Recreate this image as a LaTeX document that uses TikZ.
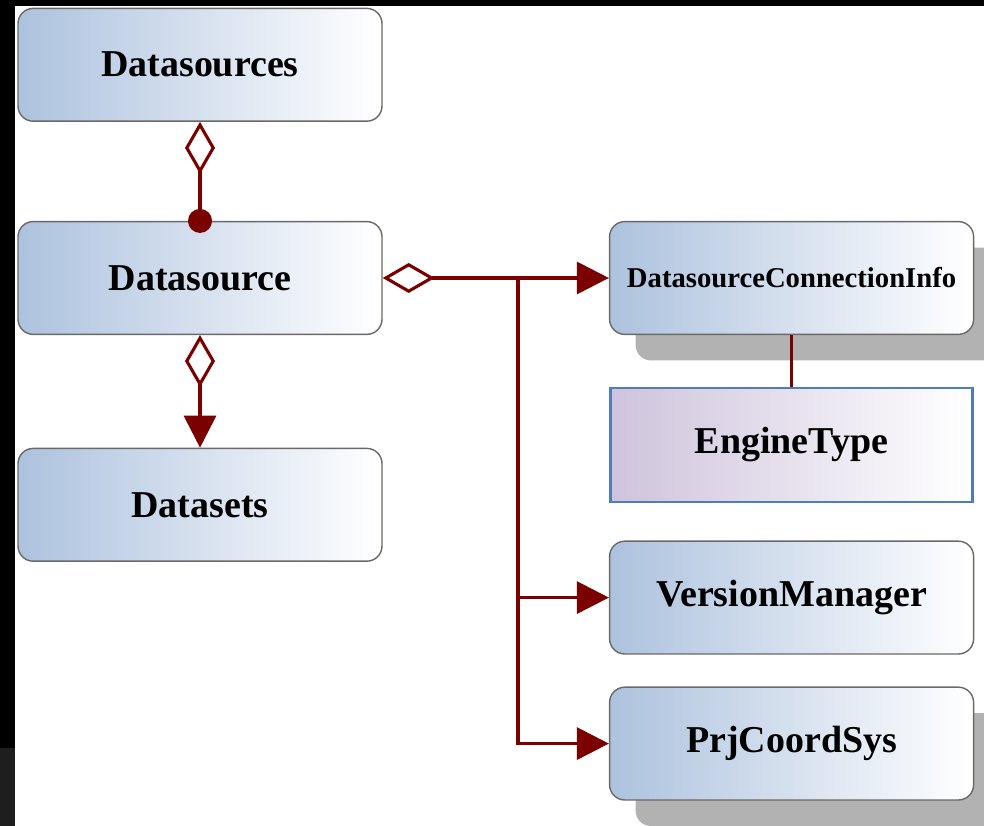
\documentclass[tikz,border=0pt]{standalone}
\usepackage{fontspec}
\setmainfont{Liberation Serif}
\usetikzlibrary{arrows.meta,positioning,shadows}
\definecolor{relred}{RGB}{123,0,0}
\definecolor{clsblue}{RGB}{173,194,222}
\definecolor{enmlilac}{RGB}{206,195,220}
\definecolor{clsline}{RGB}{105,105,105}
\definecolor{enmline}{RGB}{79,125,185}
\definecolor{darkedge}{RGB}{30,30,30}
\tikzset{>={Triangle[length=0.8cm,width=0.8cm]}}
\tikzset{agg/.tip={Diamond[open,length=1.3cm,width=0.75cm]},
         blob/.tip={Circle[length=0.6cm]}}
\tikzset{
  cls/.style={draw=clsline,line width=1pt,rounded corners=0.38cm,
    left color=clsblue,right color=white,
    minimum width=9.1cm,minimum height=2.82cm,
    font=\fontsize{27}{32}\selectfont\bfseries},
  clsshadow/.style={cls,drop shadow={shadow xshift=0.65cm,shadow yshift=-0.65cm,
    fill=black!30,opacity=1}},
  enm/.style={draw=enmline,line width=1.6pt,
    left color=enmlilac,right color=white,
    minimum width=9.05cm,minimum height=2.85cm,
    font=\fontsize{27}{32}\selectfont\bfseries},
  rel/.style={draw=relred,line width=2.2pt}
}

\begin{document}
\begin{tikzpicture}

\useasboundingbox (0,0) rectangle (24.6,20.65);
\fill[white] (0,0) rectangle (24.6,20.65);

% screen edges
\fill[black] (0,0) rectangle (0.375,20.65);
\fill[black] (0,20.5) rectangle (24.6,20.65);
\fill[darkedge] (0,0) rectangle (0.375,1.95);

\node [cls] (dss) at (5.0,19.03) {Datasources};
\node [cls] (ds) at (5.0,13.7) {Datasource};
\node [cls] (dsets) at (5.0,8.03) {Datasets};

\node [clsshadow,font=\fontsize{20.4}{24}\selectfont\bfseries] (dci) at (19.79,13.7) {DatasourceConnectionInfo};
\node [enm] (et) at (19.79,9.53) {EngineType};
\node [cls] (vm) at (19.79,5.71) {VersionManager};
\node [clsshadow] (pcs) at (19.79,2.06) {PrjCoordSys};

\coordinate (jn) at (12.95,13.7);

\begin{scope}[rel]
\draw[agg-blob,shorten >=-0.3cm] (dss) to (ds);
\draw[agg->] (ds) to (dsets);
\draw[agg->] (ds) to (dci);
\draw[->] (jn) |- (vm);
\draw[->] (jn) |- (pcs);
\draw[-] (dci) to (et);
\end{scope}

\end{tikzpicture}
\end{document}
